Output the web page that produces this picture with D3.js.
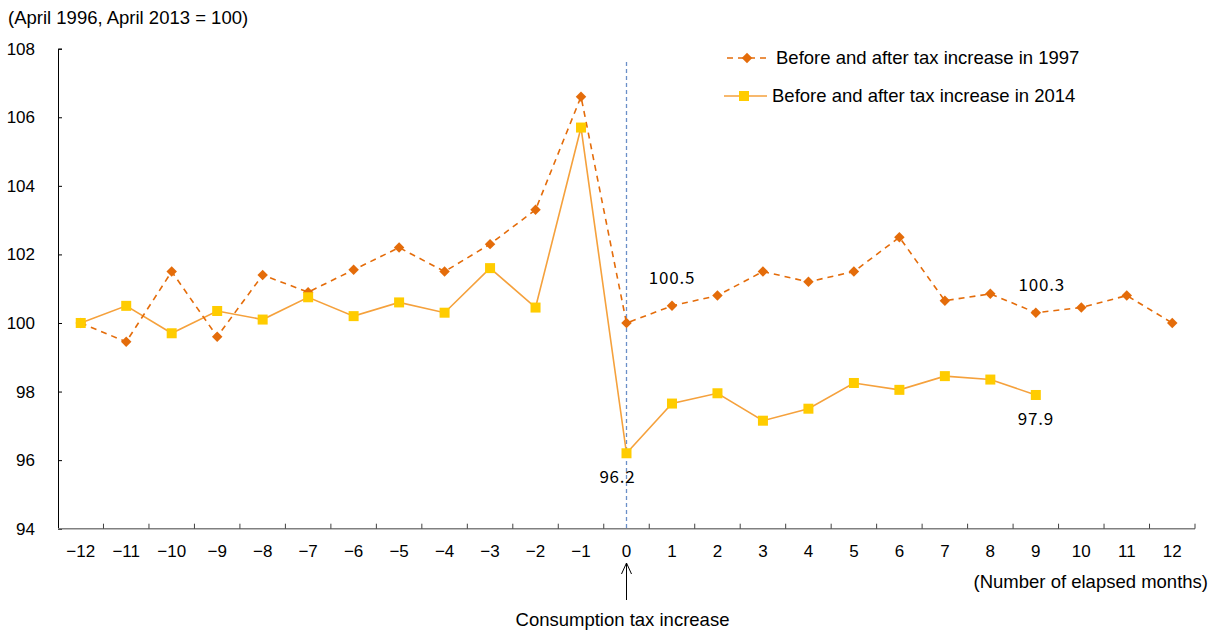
<!DOCTYPE html>
<html>
<head>
<meta charset="utf-8">
<script src="https://cdn.jsdelivr.net/npm/d3@7"></script>
<style>
  body { margin: 0; background: #fff; }
  svg { font-family: "Liberation Sans", Arial, sans-serif; }
</style>
</head>
<body>
<svg id="chart" width="1217" height="632"></svg>
<script>
const months = d3.range(-12, 13);
const series1997 = [100.0, 99.45, 101.5, 99.6, 101.4, 100.9, 101.55, 102.2, 101.5, 102.3, 103.3, 106.6,
  100.0, 100.5, 100.8, 101.5, 101.2, 101.5, 102.5, 100.65, 100.85, 100.3, 100.45, 100.8, 100.0];
const series2014 = [100.0, 100.5, 99.7, 100.35, 100.1, 100.75, 100.2, 100.6, 100.3, 101.6, 100.45, 105.7,
  96.2, 97.65, 97.95, 97.15, 97.5, 98.25, 98.05, 98.45, 98.35, 97.9];
const yTicks = [94, 96, 98, 100, 102, 104, 106, 108];
const callouts = [
  { m: 1, text: "100.5", dx: 0, y: 100.5, dy: -22 },
  { m: 9, text: "100.3", dx: 6, y: 100.3, dy: -22 },
  { m: 0, text: "96.2", dx: -9, y: 96.2, dy: 30 },
  { m: 9, text: "97.9", dx: 0, y: 97.9, dy: 30 }
];

(function () {
  const svg = d3.select("#chart");
  const left = 58, right = 1195, top = 48.7, bottom = 528.7;

  const x = d3.scaleBand().domain(months).range([left, right]);
  const y = d3.scaleLinear().domain([94, 108]).range([bottom, top]);
  const cx = m => x(m) + x.bandwidth() / 2;
  const fmt = m => m < 0 ? "\u2212" + (-m) : String(m);

  // title
  svg.append("text").attr("x", 8).attr("y", 24).attr("font-size", 18.5)
    .text("(April 1996, April 2013 = 100)");

  // y axis
  const yAxis = svg.append("g").attr("transform", `translate(${left},0)`)
    .call(d3.axisRight(y).tickValues(yTicks).tickSize(4).tickFormat(""));
  yAxis.select(".domain").attr("stroke", "#000");
  yAxis.selectAll(".tick line").attr("stroke", "#000");
  svg.append("g").selectAll("text").data(yTicks).enter().append("text")
    .attr("x", 35).attr("y", d => y(d) + 6).attr("text-anchor", "end")
    .attr("font-size", 17).text(d => d);

  // x axis: ticks at category boundaries, pointing up
  const bounds = months.map(m => x(m)).concat([right]);
  svg.append("line").attr("x1", left).attr("x2", right).attr("y1", bottom).attr("y2", bottom)
    .attr("stroke", "#808080").attr("stroke-width", 1.5);
  svg.append("g").selectAll("line").data(bounds.slice(1)).enter().append("line")
    .attr("x1", d => d).attr("x2", d => d).attr("y1", bottom).attr("y2", bottom - 5)
    .attr("stroke", "#404040");
  svg.append("g").selectAll("text").data(months).enter().append("text")
    .attr("x", d => cx(d)).attr("y", 557).attr("text-anchor", "middle")
    .attr("font-size", 17).text(fmt);

  svg.append("text").attr("x", 1208).attr("y", 588).attr("text-anchor", "end")
    .attr("font-size", 18.5).text("(Number of elapsed months)");

  // tax increase marker
  svg.append("line").attr("x1", cx(0)).attr("x2", cx(0)).attr("y1", 62).attr("y2", bottom)
    .attr("stroke", "#6a8fc8").attr("stroke-width", 1.3).attr("stroke-dasharray", "4,3");
  svg.append("line").attr("x1", cx(0)).attr("x2", cx(0)).attr("y1", 563).attr("y2", 600)
    .attr("stroke", "#000").attr("stroke-width", 1);
  svg.append("path").attr("d", `M${cx(0) - 5},${574} L${cx(0)},${563} L${cx(0) + 5},${574}`)
    .attr("fill", "none").attr("stroke", "#000").attr("stroke-width", 1);
  svg.append("text").attr("x", cx(0) - 4).attr("y", 626).attr("text-anchor", "middle")
    .attr("font-size", 18.5).text("Consumption tax increase");

  // lines
  const line = d3.line().x(d => cx(d[0])).y(d => y(d[1]));
  const d14 = series2014.map((v, i) => [months[i], v]);
  const d97 = series1997.map((v, i) => [months[i], v]);

  svg.append("path").datum(d14).attr("d", line).attr("fill", "none")
    .attr("stroke", "#f5a13c").attr("stroke-width", 1.6);
  svg.append("path").datum(d97).attr("d", line).attr("fill", "none")
    .attr("stroke", "#e46c0a").attr("stroke-width", 1.6).attr("stroke-dasharray", "6,5");

  const diamond = d3.symbol().type(d3.symbolDiamond2).size(70);
  svg.append("g").selectAll("path").data(d97).enter().append("path")
    .attr("d", diamond).attr("transform", d => `translate(${cx(d[0])},${y(d[1])})`)
    .attr("fill", "#e46c0a");
  svg.append("g").selectAll("rect").data(d14).enter().append("rect")
    .attr("x", d => cx(d[0]) - 5).attr("y", d => y(d[1]) - 5)
    .attr("width", 10).attr("height", 10).attr("fill", "#ffcc00");

  // callouts
  svg.append("g").selectAll("text").data(callouts).enter().append("text")
    .attr("x", d => cx(d.m) + d.dx).attr("y", d => y(d.y) + d.dy)
    .attr("text-anchor", "middle").attr("font-size", 17).attr("letter-spacing", 0.8)
    .attr("font-family", "'Noto Sans CJK JP', sans-serif")
    .text(d => d.text);

  // legend
  const lg = svg.append("g");
  lg.append("line").attr("x1", 727).attr("x2", 767).attr("y1", 58).attr("y2", 58)
    .attr("stroke", "#e46c0a").attr("stroke-width", 1.6).attr("stroke-dasharray", "6,5");
  lg.append("path").attr("d", diamond).attr("transform", "translate(747,58)").attr("fill", "#e46c0a");
  lg.append("text").attr("x", 776).attr("y", 64).attr("font-size", 18.5)
    .text("Before and after tax increase in 1997");
  lg.append("line").attr("x1", 724).attr("x2", 767).attr("y1", 96).attr("y2", 96)
    .attr("stroke", "#f5a13c").attr("stroke-width", 1.6);
  lg.append("rect").attr("x", 739).attr("y", 91).attr("width", 10).attr("height", 10).attr("fill", "#ffcc00");
  lg.append("text").attr("x", 772).attr("y", 102).attr("font-size", 18.5)
    .text("Before and after tax increase in 2014");
})();
</script>
</body>
</html>
